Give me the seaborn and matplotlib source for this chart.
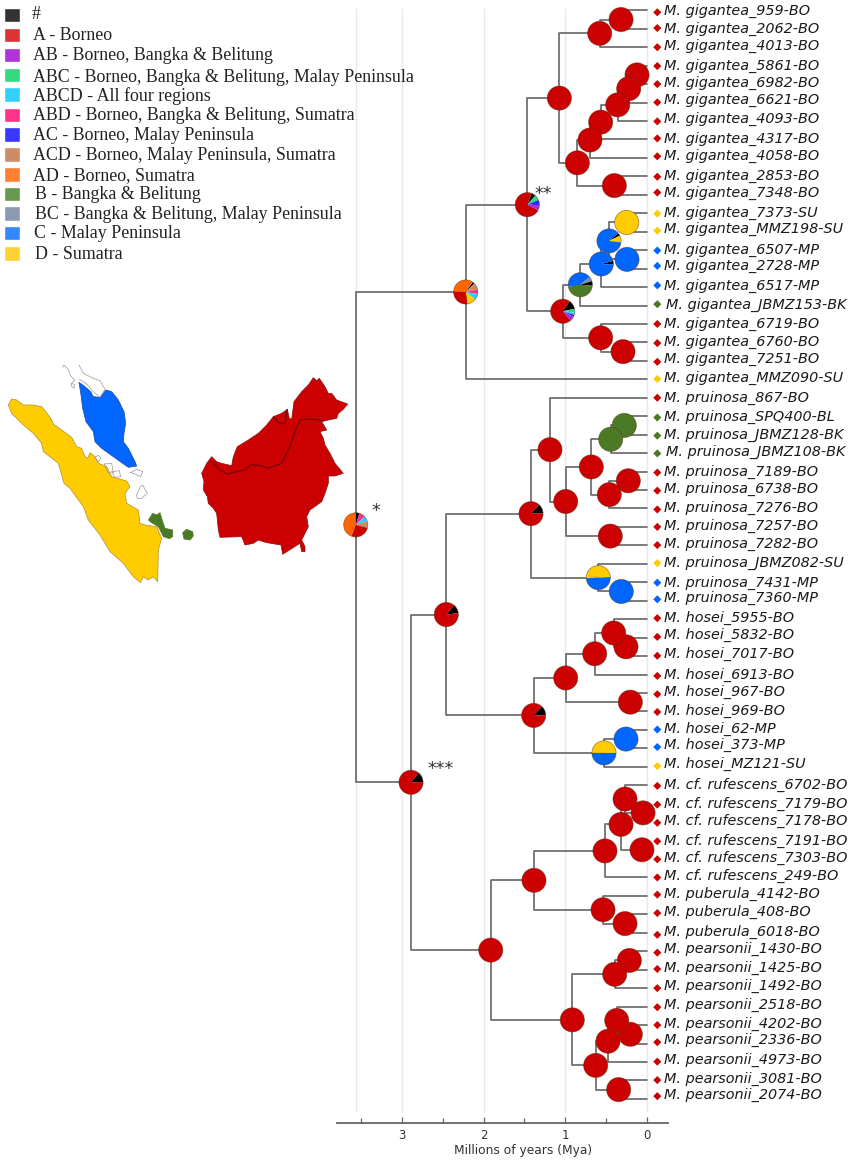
import numpy as np
import pandas as pd
import matplotlib
matplotlib.use("Agg")
import matplotlib.pyplot as plt
import seaborn as sns

# ------------------------------
# TIPS
# ------------------------------
TIP_NAMES = [
    "M. gigantea_959-BO", "M. gigantea_2062-BO", "M. gigantea_4013-BO", "M. gigantea_5861-BO",
    "M. gigantea_6982-BO", "M. gigantea_6621-BO", "M. gigantea_4093-BO", "M. gigantea_4317-BO",
    "M. gigantea_4058-BO", "M. gigantea_2853-BO", "M. gigantea_7348-BO", "M. gigantea_7373-SU",
    "M. gigantea_MMZ198-SU", "M. gigantea_6507-MP", "M. gigantea_2728-MP", "M. gigantea_6517-MP",
    "M. gigantea_JBMZ153-BK", "M. gigantea_6719-BO", "M. gigantea_6760-BO", "M. gigantea_7251-BO",
    "M. gigantea_MMZ090-SU",
    "M. pruinosa_867-BO", "M. pruinosa_SPQ400-BL", "M. pruinosa_JBMZ128-BK", "M. pruinosa_JBMZ108-BK",
    "M. pruinosa_7189-BO", "M. pruinosa_6738-BO", "M. pruinosa_7276-BO", "M. pruinosa_7257-BO",
    "M. pruinosa_7282-BO", "M. pruinosa_JBMZ082-SU", "M. pruinosa_7431-MP", "M. pruinosa_7360-MP",
    "M. hosei_5955-BO", "M. hosei_5832-BO", "M. hosei_7017-BO", "M. hosei_6913-BO", "M. hosei_967-BO",
    "M. hosei_969-BO", "M. hosei_62-MP", "M. hosei_373-MP", "M. hosei_MZ121-SU",
    "M. cf. rufescens_6702-BO", "M. cf. rufescens_7179-BO", "M. cf. rufescens_7178-BO",
    "M. cf. rufescens_7191-BO", "M. cf. rufescens_7303-BO", "M. cf. rufescens_249-BO",
    "M. puberula_4142-BO", "M. puberula_408-BO", "M. puberula_6018-BO",
    "M. pearsonii_1430-BO", "M. pearsonii_1425-BO", "M. pearsonii_1492-BO", "M. pearsonii_2518-BO",
    "M. pearsonii_4202-BO", "M. pearsonii_2336-BO", "M. pearsonii_4973-BO", "M. pearsonii_3081-BO",
    "M. pearsonii_2074-BO",
]

# ------------------------------
# NODES: name -> (age in Mya, child, child, state)
# children come before their parents
# ------------------------------
NODES = {
    "g1": (0.315, "M. gigantea_959-BO", "M. gigantea_2062-BO", "A"),
    "g2": (0.577, "g1", "M. gigantea_4013-BO", "A"),
    "g3": (0.119, "M. gigantea_5861-BO", "M. gigantea_6982-BO", "A"),
    "g4": (0.221, "g3", "M. gigantea_6621-BO", "A"),
    "g5": (0.356, "g4", "M. gigantea_4093-BO", "A"),
    "g6": (0.565, "g5", "M. gigantea_4317-BO", "A"),
    "g7": (0.696, "g6", "M. gigantea_4058-BO", "A"),
    "g8": (0.397, "M. gigantea_2853-BO", "M. gigantea_7348-BO", "A"),
    "g9": (0.851, "g7", "g8", "A"),
    "g10": (1.072, "g2", "g9", "A"),
    "g11": (0.245, "M. gigantea_7373-SU", "M. gigantea_MMZ198-SU", "D"),
    "g12": (0.242, "M. gigantea_6507-MP", "M. gigantea_2728-MP", "C"),
    "g13": (0.463, "g11", "g12", "mix"),
    "g14": (0.557, "g13", "M. gigantea_6517-MP", "mix"),
    "g15": (0.815, "g14", "M. gigantea_JBMZ153-BK", "mix"),
    "g17": (0.291, "M. gigantea_6760-BO", "M. gigantea_7251-BO", "A"),
    "g16": (0.565, "M. gigantea_6719-BO", "g17", "A"),
    "g18": (1.031, "g15", "g16", "mix"),
    "g19": (1.465, "g10", "g18", "mix"),
    "g20": (2.221, "g19", "M. gigantea_MMZ090-SU", "mix"),
    "p1": (0.275, "M. pruinosa_SPQ400-BL", "M. pruinosa_JBMZ128-BK", "B"),
    "p2": (0.442, "p1", "M. pruinosa_JBMZ108-BK", "B"),
    "p3": (0.226, "M. pruinosa_7189-BO", "M. pruinosa_6738-BO", "A"),
    "p4": (0.459, "p3", "M. pruinosa_7276-BO", "A"),
    "p5": (0.680, "p2", "p4", "A"),
    "p6": (0.447, "M. pruinosa_7257-BO", "M. pruinosa_7282-BO", "A"),
    "p7": (0.994, "p5", "p6", "A"),
    "p8": (1.187, "M. pruinosa_867-BO", "p7", "A"),
    "p9": (0.312, "M. pruinosa_7431-MP", "M. pruinosa_7360-MP", "C"),
    "p10": (0.594, "M. pruinosa_JBMZ082-SU", "p9", "mix"),
    "p11": (1.420, "p8", "p10", "mix"),
    "h1": (0.254, "M. hosei_5832-BO", "M. hosei_7017-BO", "A"),
    "h2": (0.405, "M. hosei_5955-BO", "h1", "A"),
    "h3": (0.638, "h2", "M. hosei_6913-BO", "A"),
    "h4": (0.201, "M. hosei_967-BO", "M. hosei_969-BO", "A"),
    "h5": (0.994, "h3", "h4", "A"),
    "h6": (0.254, "M. hosei_62-MP", "M. hosei_373-MP", "C"),
    "h7": (0.524, "h6", "M. hosei_MZ121-SU", "mix"),
    "h8": (1.387, "h5", "h7", "mix"),
    "ph": (2.459, "p11", "h8", "mix"),
    "r1": (0.045, "M. cf. rufescens_7179-BO", "M. cf. rufescens_7178-BO", "A"),
    "r2": (0.266, "M. cf. rufescens_6702-BO", "r1", "A"),
    "r3": (0.058, "M. cf. rufescens_7191-BO", "M. cf. rufescens_7303-BO", "A"),
    "r4": (0.315, "r2", "r3", "A"),
    "r5": (0.512, "r4", "M. cf. rufescens_249-BO", "A"),
    "u1": (0.266, "M. puberula_408-BO", "M. puberula_6018-BO", "A"),
    "u2": (0.536, "M. puberula_4142-BO", "u1", "A"),
    "ru": (1.383, "r5", "u2", "A"),
    "e1": (0.213, "M. pearsonii_1430-BO", "M. pearsonii_1425-BO", "A"),
    "e2": (0.393, "e1", "M. pearsonii_1492-BO", "A"),
    "e3": (0.201, "M. pearsonii_4202-BO", "M. pearsonii_2336-BO", "A"),
    "e4": (0.368, "M. pearsonii_2518-BO", "e3", "A"),
    "e5": (0.475, "e4", "M. pearsonii_4973-BO", "A"),
    "e6": (0.344, "M. pearsonii_3081-BO", "M. pearsonii_2074-BO", "A"),
    "e7": (0.626, "e5", "e6", "A"),
    "e8": (0.913, "e2", "e7", "A"),
    "rue": (1.914, "ru", "e8", "A"),
    "all": (2.892, "ph", "rue", "mix"),
    "root": (3.570, "g20", "all", "mix"),
}

# mixed ancestral states: node -> (start angle, states, percent), clockwise
MIXED = {
    "g13": (40, ["#", "D", "C"], [4, 9, 87]),
    "g14": (15, ["#", "C"], [5, 95]),
    "g15": (190, ["C", "BC", "#", "B"], [42, 6, 6, 46]),
    "g18": (55, ["#", "ABC", "ABCD", "AC", "AB", "A"], [12, 5, 3, 3, 6, 71]),
    "g19": (70, ["#", "ABC", "AC", "AB", "A"], [6, 7, 7, 7, 73]),
    "g20": (55, ["#", "ACD", "ABD", "ABCD", "D", "A", "AD"], [3, 9, 6, 8, 12, 28, 34]),
    "p10": (183, ["D", "C"], [50, 50]),
    "p11": (48, ["#", "A"], [13, 87]),
    "h7": (180, ["D", "C"], [50, 50]),
    "h8": (48, ["#", "A"], [13, 87]),
    "ph": (50, ["#", "A"], [12, 88]),
    "all": (52, ["#", "A"], [14, 86]),
    "root": (90, ["#", "ABD", "ABCD", "ACD", "A", "AD"], [5, 8, 7, 9, 27, 44]),
}

PIE_COLORS = {
    "#": "#000000", "A": "#CC0000", "AB": "#A82BE0", "ABC": "#2EDB82", "ABCD": "#30CCFF",
    "ABD": "#FF2E8C", "AC": "#2B2BFF", "ACD": "#CC8A60", "AD": "#FF6600", "B": "#4A7A23",
    "BC": "#858C9A", "C": "#0066FF", "D": "#FFCC00",
}

# ------------------------------
# LEGEND
# ------------------------------
LEGEND_KEYS = ["#", "A", "AB", "ABC", "ABCD", "ABD", "AC", "ACD", "AD", "B", "BC", "C", "D"]
LEGEND_LABELS = [
    "#", "A - Borneo", "AB - Borneo, Bangka & Belitung", "ABC - Borneo, Bangka & Belitung, Malay Peninsula",
    "ABCD - All four regions", "ABD - Borneo, Bangka & Belitung, Sumatra", "AC - Borneo, Malay Peninsula",
    "ACD - Borneo, Malay Peninsula, Sumatra", "AD - Borneo, Sumatra", "B - Bangka & Belitung",
    "BC - Bangka & Belitung, Malay Peninsula", "C - Malay Peninsula", "D - Sumatra",
]
LEGEND_COLORS = ["#333333", "#DD3333", "#B033D9", "#33D97F", "#33D0FF", "#FF3388", "#3838FF",
                 "#CC8C66", "#FF8033", "#66994D", "#8C99B3", "#3388FF", "#FFD133"]

# ------------------------------
# MAP OUTLINES
# ------------------------------
BORNEO = [(605, 370), (620, 340), (635, 320), (650, 335), (665, 340), (695, 347), (700, 320), (712, 290),
          (745, 270), (775, 250), (800, 225), (820, 200), (845, 190), (862, 178), (868, 205), (875, 208),
          (882, 155), (905, 125), (925, 105), (940, 83), (950, 92), (958, 85), (975, 110), (985, 130),
          (995, 130), (1010, 150), (1043, 162), (1030, 178), (1015, 190), (1010, 205), (985, 210), (965, 215),
          (980, 240), (960, 245), (970, 265), (975, 285), (990, 310), (1005, 340), (1030, 370), (1005, 378),
          (985, 378), (985, 400), (975, 430), (965, 455), (930, 480), (920, 500), (925, 530), (905, 570),
          (915, 590), (915, 605), (905, 605), (900, 580), (848, 613), (843, 585), (800, 578), (775, 570),
          (760, 580), (735, 585), (725, 560), (660, 562), (655, 540), (650, 490), (640, 475), (625, 460),
          (622, 440), (610, 420), (612, 395)]
BORNEO_BORDER = [(635, 335), (660, 360), (680, 372), (710, 365), (735, 360), (750, 345), (775, 345), (805, 355),
                 (845, 340), (860, 310), (870, 290), (885, 245), (900, 210), (930, 207), (970, 212)]
BRUNEI_BORDER = [(820, 200), (835, 218), (855, 222), (862, 178)]
SUMATRA = [(25, 165), (35, 147), (50, 150), (70, 165), (100, 165), (125, 170), (145, 195), (155, 210), (160, 222),
           (185, 240), (215, 262), (230, 290), (245, 295), (255, 320), (263, 325), (270, 308), (285, 320),
           (295, 340), (320, 350), (335, 380), (380, 393), (390, 410), (375, 430), (380, 460), (415, 480),
           (420, 520), (435, 525), (470, 530), (485, 565), (475, 600), (473, 695), (460, 680), (445, 690),
           (430, 680), (422, 698), (400, 680), (370, 640), (330, 605), (300, 555), (265, 510), (250, 470),
           (210, 415), (192, 400), (175, 340), (130, 305), (125, 280), (100, 250), (70, 225), (35, 190)]
PENINSULA = [(237, 97), (255, 110), (272, 125), (280, 140), (300, 142), (318, 120), (335, 125), (355, 150),
             (372, 185), (377, 220), (372, 250), (370, 275), (385, 295), (405, 335), (410, 348), (385, 352),
             (375, 345), (340, 320), (305, 295), (285, 275), (280, 245), (258, 215), (248, 175), (243, 135)]
BANGKA = [(445, 510), (458, 490), (470, 495), (480, 488), (488, 515), (495, 535), (518, 540), (518, 560),
          (508, 566), (490, 560), (475, 530), (455, 518)]
BELITUNG = [(548, 548), (560, 538), (578, 545), (580, 558), (570, 570), (552, 567)]
COAST_LINES = [
    [(187, 52), (192, 46), (205, 58), (212, 78), (224, 90), (216, 100)],
    [(237, 45), (250, 70), (282, 86), (300, 92), (315, 118), (300, 142), (280, 125), (258, 100), (238, 88)],
    [(285, 322), (295, 316), (303, 325), (295, 335), (285, 322)],
    [(312, 342), (335, 340), (340, 368), (325, 370), (312, 342)],
    [(335, 365), (358, 362), (362, 380), (345, 382), (335, 365)],
    [(392, 368), (410, 358), (428, 365), (422, 380), (405, 372), (392, 368)],
    [(410, 435), (420, 412), (428, 405), (442, 430), (425, 445), (412, 445), (410, 435)],
    [(214, 100), (224, 104), (222, 115), (214, 108), (214, 100)],
]

# small hand offsets (pixels, + = down), the labels and markers of the original sit off their branches
LABEL_DY = [-0.3, -1.3, -2, -0.5, -1.7, -3.2, -3, -1.7, -3, -1.3, -3.3, -1.7, -3.3, -1.3, -4, -2.3, -2, -1, -1.3, -3.4, -2,
            -1, 0, -1, -1.7, -0.3, -1.7, -1.3, -2, -2.6, -2.3, -0.6, -4,
            -2.3, -3.4, -2.7, -0.6, -2.3, -1.7, -2, -4, -3.4,
            -1, -1, -1.7, -1, -2, -3, -2.7, -3.3, -2,
            -3.3, -2.7, -3, -2.4, -2.3, -4.3, -3, -2.3, -4.7]
MARKER_DY = [2, -0.7, 0, 0.4, 0, -0.2, 0.4, -1, -1.6, 0.4, -2.3, 0.4, -1, 0.4, -2.7, -1.7, -1.3, 0, 0.7, 1, -0.3,
             0, 1.3, 1, 0.3, 1, 0.7, 1, 0, -0.3, -0.7, 0.4, -1.4,
             -1, -0.7, -0.3, 1.4, 1.3, 0.6, -0.3, -1.3, -0.7,
             0.7, 1, 0.7, 0.7, 0.3, 0,
             -1.3, -1.3, 2,
             1.4, -0.7, 0, 0.6, 0, -1.3, -0.3, -0.3, -2.7]

REGION_COLORS = {"BO": "#CC0000", "BK": "#4A7A23", "BL": "#4A7A23", "MP": "#0066FF", "SU": "#FFCC00"}
TIP_TOP = 10.3      # pixel row of the first tip
TIP_STEP = 18.45    # pixels between tips
PIE_R = 12.1


def tip_y(name, rows):
    if name in rows:
        return rows[name]
    age, a, b, _ = NODES[name]
    rows[name] = (tip_y(a, rows) + tip_y(b, rows)) / 2
    return rows[name]


def branch_table(rows):
    out = []
    for node, (age, a, b, _) in NODES.items():
        for child in (a, b):
            child_age = NODES[child][0] if child in NODES else 0.0
            branch = f"{node}-{child}"
            out.append((branch, age, rows[node]))
            out.append((branch, age, rows[child]))
            out.append((branch, child_age, rows[child]))
    return pd.DataFrame(out, columns=["branch", "age", "row"])


sns.set_style("white")
plt.rcParams["font.family"] = ["DejaVu Sans"]

fig = plt.figure(figsize=(8.51, 11.62), dpi=100)
W, H = 851, 1162

# tree axes: age on x, tip rank on y
AX_L, AX_R, AX_B = 337, 668, 1123.3
X0, PX_PER_MYA = 646.7, 81.5
tree = fig.add_axes([AX_L / W, (H - AX_B) / H, (AX_R - AX_L) / W, AX_B / H])
tree.patch.set_alpha(0)
tree.set_xlim((X0 - AX_L) / PX_PER_MYA, (X0 - AX_R) / PX_PER_MYA)
tree.set_ylim((AX_B - TIP_TOP) / TIP_STEP, -TIP_TOP / TIP_STEP)

rows = {name: float(i) for i, name in enumerate(TIP_NAMES)}
for node in NODES:
    tip_y(node, rows)

# grid
tree.vlines([0, 1, 2, 3, 3.57], (8 - TIP_TOP) / TIP_STEP, (1112 - TIP_TOP) / TIP_STEP,
            color="#e9e9e9", lw=1.0, zorder=0)

# branches
sns.lineplot(data=branch_table(rows), x="age", y="row", units="branch", estimator=None, sort=False,
             color="#6b6b6b", lw=1.25, ax=tree, legend=False, zorder=1)

# tip markers
tips = pd.DataFrame({"name": TIP_NAMES})
tips["region"] = tips["name"].str[-2:]
tips["age"] = -0.13
tips["row"] = np.arange(len(tips)) + np.array(MARKER_DY) / TIP_STEP
sns.scatterplot(data=tips, x="age", y="row", hue="region", palette=REGION_COLORS, marker="D", s=17,
                linewidth=0, ax=tree, legend=False, clip_on=False, zorder=3)

# tip labels
for i, name in enumerate(TIP_NAMES):
    nudge = 2 if "JBMZ153" in name else 1.5 if "JBMZ108" in name else 0
    tree.text(-(664 + nudge - X0) / PX_PER_MYA, i + (LABEL_DY[i] + 1) / TIP_STEP, name, style="italic",
              fontsize=10.35, color="#1a1a1a", va="center", ha="left", clip_on=False)

# axis
for side in ("top", "left", "right"):
    tree.spines[side].set_visible(False)
tree.spines["bottom"].set_color("#666666")
tree.spines["bottom"].set_linewidth(1.3)
tree.set_yticks([])
tree.set_xticks([0, 1, 2, 3])
tree.set_xticks([0.5, 1.5, 2.5, 3.5], minor=True)
tree.tick_params(axis="x", which="major", direction="in", length=4.5, width=0.9, color="#666666",
                 labelsize=8.5, labelcolor="#333333", pad=4, bottom=True)
tree.tick_params(axis="x", which="minor", direction="in", length=3.5, width=0.9, color="#666666", bottom=True)
tree.set_xlabel("Millions of years (Mya)", fontsize=8.8, color="#333333")
tree.xaxis.set_label_coords((523 - AX_L) / (AX_R - AX_L), -(1150.7 - AX_B) / AX_B, transform=tree.transAxes)
tree.xaxis.label.set_va("center")
tree.set_ylabel("")

# overlay in figure pixels (y up), pies and legend go here
over = fig.add_axes([0, 0, 1, 1])
over.patch.set_alpha(0)

for node, (age, a, b, state) in NODES.items():
    px, py = tree.transData.transform((age, rows[node]))
    if node == "root":
        py += 12.3
    if state == "mix":
        start, states, share = MIXED[node]
        colors = [PIE_COLORS[s] for s in states]
    else:
        start, share, colors = 90, [100], [PIE_COLORS[state]]
    over.pie(share, colors=colors, center=(px, py), radius=PIE_R, startangle=start, counterclock=False,
             wedgeprops={"linewidth": 0})
    over.add_patch(plt.Circle((px, py), PIE_R, fc="none", ec="#55331a", lw=0.5, alpha=0.6))

# legend
swatch_rows = [15, 35, 55, 75, 94.7, 115, 134.5, 154.5, 174.5, 193.8, 213.3, 232.8, 253.3]
text_rows = [13.3, 34.3, 55, 76.7, 95, 115, 134.7, 154.3, 175, 193.3, 213.3, 232.7, 253.3]
text_left = [32, 33, 33, 33, 33, 33, 33, 33, 33, 35, 35, 34.5, 35]
over.barh([H - r for r in swatch_rows], 16, left=4, height=14.5, color=LEGEND_COLORS)
for key, label, r, x in zip(LEGEND_KEYS, LEGEND_LABELS, text_rows, text_left):
    over.text(x, H - r - 0.8, label, family="Liberation Serif", fontsize=12.85, color="#222222", va="center", ha="left")

# stars
over.text(376, H - 511, "*", fontsize=12.5, color="#333333", ha="center", va="center")
over.text(543, H - 194, "**", fontsize=12.5, color="#333333", ha="center", va="center")
over.text(441, H - 769, "***", fontsize=12.5, color="#333333", ha="center", va="center")

over.set_xlim(0, W)
over.set_ylim(0, H)
over.set_aspect("auto")
over.axis("off")

# map inset, units are 1/3 pixel
geo = fig.add_axes([0, (H - 610) / H, 380 / W, 260 / H])
geo.patch.set_alpha(0)
geo.set_xlim(0, 1140)
geo.set_ylim(780, 0)
geo.axis("off")
for outline, fc, ec in [(BORNEO, "#CC0000", "#8a1010"), (SUMATRA, "#FFCC00", "#b09030"),
                        (PENINSULA, "#0066FF", "#1a4a9a"), (BANGKA, "#4A7A23", "#4A7A23"),
                        (BELITUNG, "#4A7A23", "#4A7A23")]:
    xs, ys = zip(*outline)
    geo.fill(xs, ys, fc=fc, ec=ec, lw=0.5)
for line, col, lw in [(BORNEO_BORDER, "#5a0a0a", 0.7), (BRUNEI_BORDER, "#5a0a0a", 0.7)]:
    xs, ys = zip(*line)
    geo.plot(xs, ys, color=col, lw=lw)
for line in COAST_LINES:
    xs, ys = zip(*line)
    geo.plot(xs, ys, color="#999999", lw=0.5)

fig.savefig("out.png", dpi=100)
